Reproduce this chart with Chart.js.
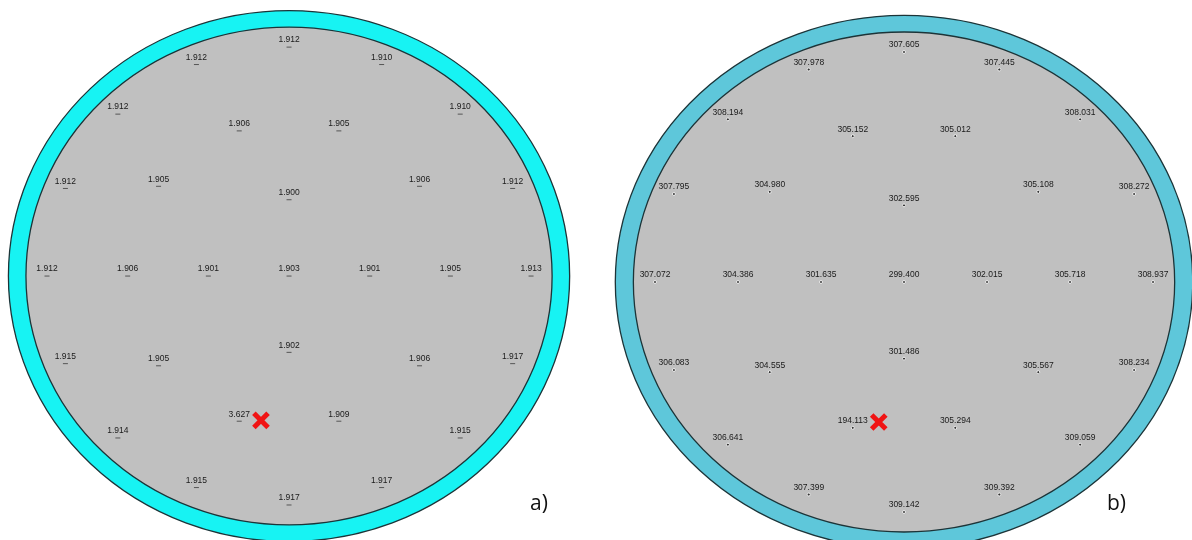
<!DOCTYPE html>
<html>
<head>
<meta charset="utf-8">
<script src="https://cdn.jsdelivr.net/npm/chart.js@4.4.1/dist/chart.umd.min.js"></script>
<style>
  body { margin: 0; background: #fff; }
  #wrap { position: relative; width: 1192px; height: 540px; overflow: hidden; }
  #chartA { position: absolute; left: 0; top: 0; }
  #chartB { position: absolute; left: 596px; top: 0; }
</style>
</head>
<body>
<div id="wrap">
  <canvas id="chartA" width="580" height="540"></canvas>
  <canvas id="chartB" width="596" height="540"></canvas>
</div>
<script>
// measurement sites (mm from wafer centre): centre, ring 1, ring 2, ring 3
const siteX = [0,
  46, 0, -46, 0,
  92, 74.4, 28.4, -28.4, -74.4, -92, -74.4, -28.4, 28.4, 74.4,
  138, 127.5, 97.6, 52.8, 0, -52.8, -97.6, -127.5, -138, -127.5, -97.6, -52.8, 0, 52.8, 97.6, 127.5];
const siteY = [0,
  0, 46, 0, -46,
  0, 54.1, 87.5, 87.5, 54.1, 0, -54.1, -87.5, -87.5, -54.1,
  0, 52.8, 97.6, 127.5, 138, 127.5, 97.6, 52.8, 0, -52.8, -97.6, -127.5, -138, -127.5, -97.6, -52.8];

const valuesA = [1.903,
  1.901, 1.900, 1.901, 1.902,
  1.905, 1.906, 1.905, 1.906, 1.905, 1.906, 1.905, 3.627, 1.909, 1.906,
  1.913, 1.912, 1.910, 1.910, 1.912, 1.912, 1.912, 1.912, 1.912, 1.915, 1.914, 1.915, 1.917, 1.917, 1.915, 1.917];
const valuesB = [299.400,
  302.015, 302.595, 301.635, 301.486,
  305.718, 305.108, 305.012, 305.152, 304.980, 304.386, 304.555, 194.113, 305.294, 305.567,
  308.937, 308.272, 308.031, 307.445, 307.605, 307.978, 308.194, 307.795, 307.072, 306.083, 306.641, 307.399, 309.142, 309.392, 309.059, 308.234];

const defectA = [{ x: -16, y: -87 }];
const defectB = [{ x: -14, y: -84 }];

const waferRadius = 150;
const edgeRadius = 160;

const waferPlugin = {
  id: 'wafer',
  beforeDatasetsDraw(chart, args, opts) {
    const { ctx, scales: { x, y } } = chart;
    const cx = x.getPixelForValue(0), cy = y.getPixelForValue(0);
    function ellipse(r, fill) {
      const rx = x.getPixelForValue(r) - cx;
      const ry = cy - y.getPixelForValue(r);
      ctx.beginPath();
      ctx.ellipse(cx, cy, rx, ry, 0, 0, Math.PI * 2);
      ctx.fillStyle = fill;
      ctx.fill();
      ctx.lineWidth = 1.3;
      ctx.strokeStyle = '#1c3438';
      ctx.stroke();
    }
    ctx.save();
    ellipse(edgeRadius, opts.ringColor);
    ellipse(waferRadius, '#c0c0c0');
    ctx.restore();
  },
  afterDatasetsDraw(chart, args, opts) {
    const ctx = chart.ctx;
    const meta = chart.getDatasetMeta(0);
    const data = chart.data.datasets[0].data;
    ctx.save();
    ctx.font = '8.5px "Liberation Sans", Arial, sans-serif';
    ctx.fillStyle = '#1a1a1a';
    ctx.textAlign = 'center';
    ctx.textBaseline = 'middle';
    meta.data.forEach((pt, i) => {
      ctx.fillText(data[i].v.toFixed(3), pt.x, pt.y - 7);
    });
    ctx.restore();
  },
  afterDraw(chart, args, opts) {
    const ctx = chart.ctx;
    ctx.save();
    ctx.font = '21px "Open Sans", sans-serif';
    ctx.fillStyle = '#111';
    ctx.textAlign = 'left';
    ctx.textBaseline = 'alphabetic';
    ctx.fillText(opts.caption, opts.captionX, 510);
    ctx.restore();
  }
};

function makeWafer(canvasId, values, defect, bounds, ring, caption, captionX, dotStyle) {
  const sites = values.map((v, i) => ({ x: siteX[i], y: siteY[i], v: v }));
  return new Chart(document.getElementById(canvasId), {
    type: 'scatter',
    data: {
      datasets: [{
        data: sites,
        ...dotStyle
      }, {
        data: defect,
        pointStyle: 'crossRot',
        pointRadius: 10,
        borderWidth: 5,
        borderColor: '#f01414',
        backgroundColor: '#f01414'
      }]
    },
    options: {
      responsive: false,
      animation: false,
      events: [],
      layout: { padding: 0, autoPadding: false },
      plugins: {
        legend: { display: false },
        tooltip: { enabled: false },
        wafer: { ringColor: ring, caption: caption, captionX: captionX }
      },
      scales: {
        x: { type: 'linear', min: bounds[0], max: bounds[1], display: false },
        y: { type: 'linear', min: bounds[2], max: bounds[3], display: false }
      }
    },
    plugins: [waferPlugin]
  });
}

makeWafer('chartA', valuesA, defectA, [-164.8, 165.9, -159.1, 166.4], '#17f3f3', 'a)', 530,
  { pointStyle: 'line', pointRadius: 2.5, borderWidth: 1, borderColor: '#555', backgroundColor: '#fff' });
makeWafer('chartB', valuesB, defectB, [-170.7, 159.6, -154.8, 169.2], '#5ec7da', 'b)', 511,
  { pointStyle: 'circle', pointRadius: 1.5, borderWidth: 1, borderColor: '#eee', backgroundColor: '#333' });
</script>
</body>
</html>
